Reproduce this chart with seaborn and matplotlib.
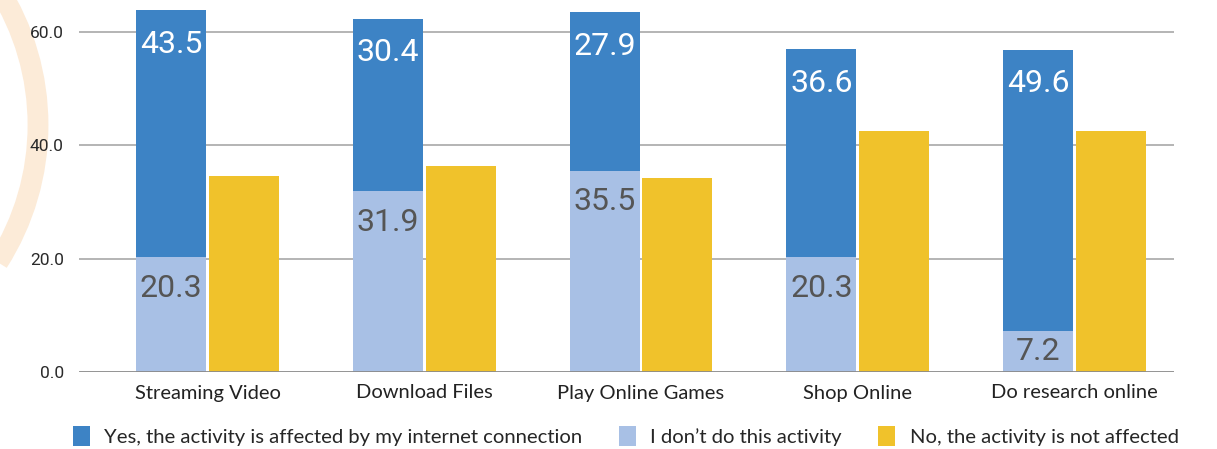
import matplotlib
matplotlib.use("Agg")
import matplotlib.pyplot as plt
from matplotlib.patches import Patch, Arc
import pandas as pd
import seaborn as sns

activities = ["Streaming Video", "Download Files", "Play Online Games", "Shop Online", "Do research online"]
affected = [43.5, 30.4, 27.9, 36.6, 49.6]
dont_do = [20.3, 31.9, 35.5, 20.3, 7.2]
not_affected = [34.6, 36.4, 34.2, 42.5, 42.5]

legend_labels = [
    "Yes, the activity is affected by my internet connection",
    "I don\u2019t do this activity",
    "No, the activity is not affected",
]
yticks = [0, 20, 40, 60]

DARK = "#3d83c5"
LIGHT = "#a8c0e5"
YELLOW = "#f0c22b"

sns.set_style("white")
plt.rcParams["font.family"] = ["Roboto", "DejaVu Sans"]

totals = [a + d for a, d in zip(affected, dont_do)]
top_df = pd.DataFrame({
    "activity": activities * 2,
    "slot": ["stack"] * 5 + ["no"] * 5,
    "value": totals + not_affected,
})
bottom_df = pd.DataFrame({
    "activity": activities * 2,
    "slot": ["stack"] * 5 + ["no"] * 5,
    "value": dont_do + [float("nan")] * 5,
})

fig = plt.figure(figsize=(12.17, 4.49), dpi=100)
ax = fig.add_axes([79 / 1217, 1 - 372 / 449, (1174 - 79) / 1217, 372 / 449])

# decorative faint arc at the left edge (behind everything)
arc = Arc((-217 / 1217, 1 - 125 / 449), 510 / 1217, 510 / 449, theta1=-60, theta2=60,
          transform=fig.transFigure, color="#fcebd8", lw=15, zorder=-1)
fig.patches.append(arc)

for y in [20, 40, 60]:
    ax.axhline(y, color="#a0a0a0", lw=1.1, zorder=0)
ax.axhline(0, color="#8a8a8a", lw=2, zorder=3)

sns.barplot(data=top_df, x="activity", y="value", hue="slot", hue_order=["stack", "no"],
            palette={"stack": DARK, "no": YELLOW}, width=0.67, gap=0.035,
            saturation=1, legend=False, ax=ax, zorder=2, linewidth=0)
sns.barplot(data=bottom_df, x="activity", y="value", hue="slot", hue_order=["stack", "no"],
            palette={"stack": LIGHT, "no": YELLOW}, width=0.67, gap=0.035,
            saturation=1, legend=False, ax=ax, zorder=2, linewidth=0)

stack_top = ax.containers[0]
stack_bottom = ax.containers[2]
for bar, val in zip(stack_top, affected):
    ax.text(bar.get_x() + bar.get_width() / 2, bar.get_height() - 6.0, f"{val:.1f}",
            ha="center", va="center", color="white", fontsize=23, zorder=4)
for bar, val in zip(stack_bottom, dont_do):
    top = bar.get_height()
    ax.text(bar.get_x() + bar.get_width() / 2, max(top - 5.5, top / 2), f"{val:.1f}",
            ha="center", va="center", color="#555555", fontsize=23, zorder=4)

ax.set_xlim(-0.593, 4.459)
ax.set_ylim(0, 65.6)
ax.set_yticks(yticks)
ax.set_yticklabels([f"{v:.1f}" for v in yticks], fontsize=12.5, color="#2a2a2a")
ax.tick_params(axis="y", length=0, pad=11)
ax.tick_params(axis="x", length=0, pad=9)
for lab in ax.get_xticklabels():
    lab.set_fontfamily(["Lato", "DejaVu Sans"])
    lab.set_fontsize(14.5)
    lab.set_color("#222222")
ax.set_xlabel("")
ax.set_ylabel("")
ax.patch.set_alpha(0)
sns.despine(ax=ax, left=True, bottom=True)

handles = [Patch(facecolor=c, edgecolor="none") for c in [DARK, LIGHT, YELLOW]]
fig.legend(handles, legend_labels, loc="lower center", bbox_to_anchor=(0.514, -0.035),
           ncol=3, frameon=False, handlelength=0.85, handleheight=1.2, handletextpad=0.7,
           columnspacing=1.8, prop={"family": ["Lato", "DejaVu Sans"], "size": 14.6})

fig.savefig("out.png", dpi=100)
